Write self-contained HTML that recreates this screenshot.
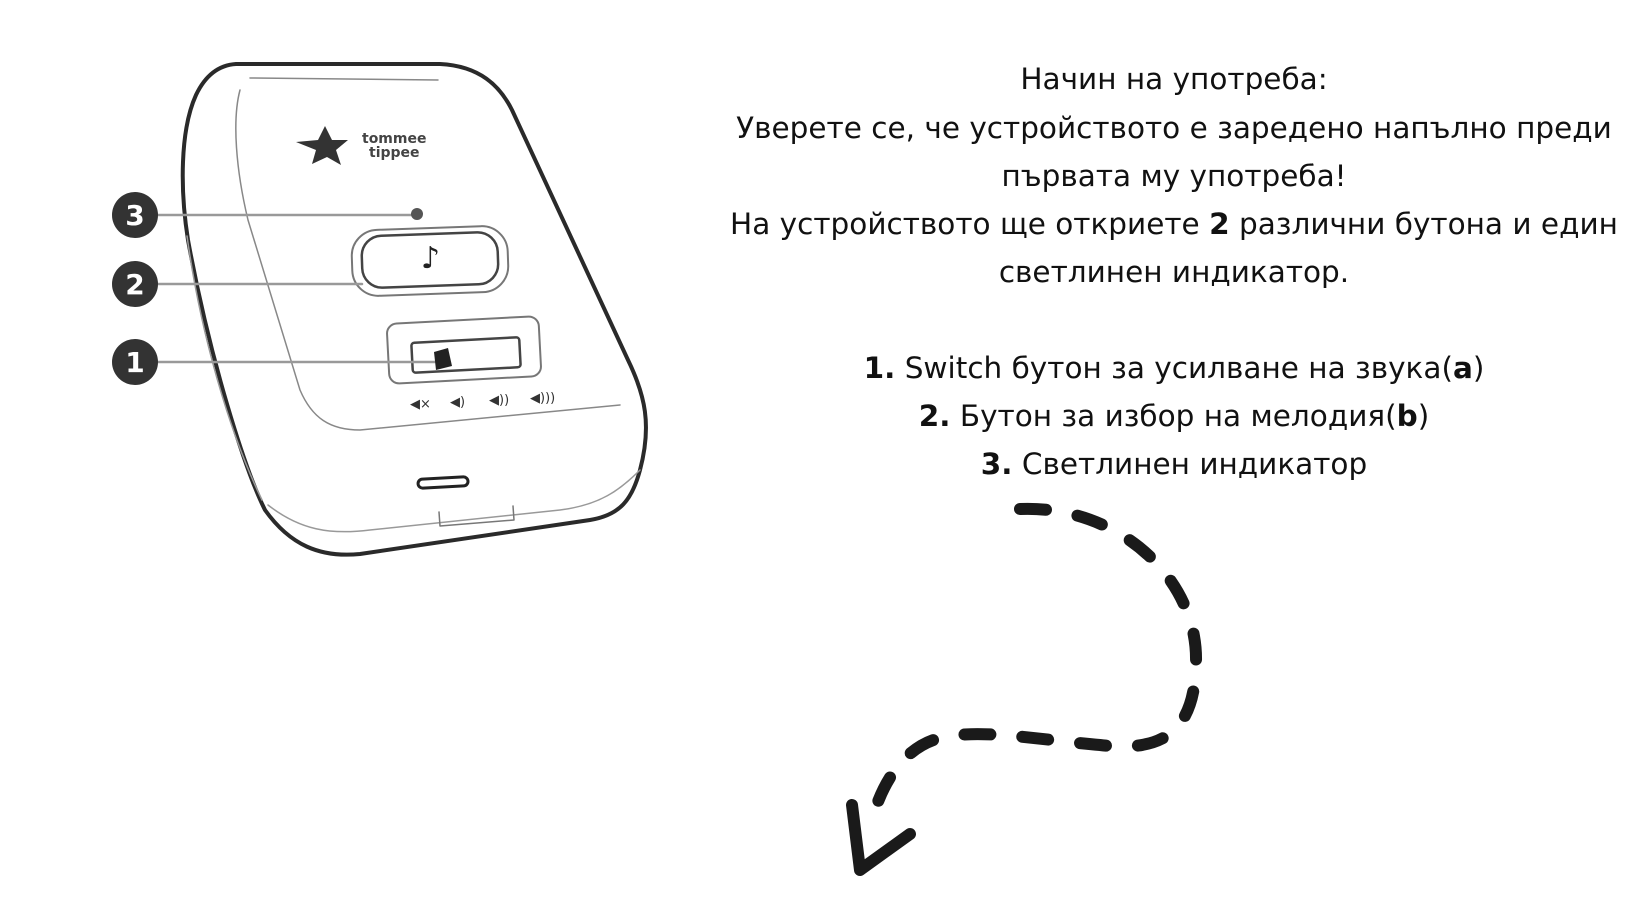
<!DOCTYPE html>
<html><head><meta charset="utf-8"><style>
html,body{margin:0;padding:0;background:#fff;}
body{width:1640px;height:924px;position:relative;overflow:hidden;}
.t{position:absolute;left:690px;width:968px;text-align:center;font-family:"DejaVu Sans","Liberation Sans",sans-serif;font-size:29.5px;color:#111;white-space:nowrap;}
b{font-weight:bold;}
</style></head><body>
<svg width="1640" height="924" style="position:absolute;left:0;top:0">
<g fill="none" stroke="#2a2a2a" stroke-linecap="round" stroke-linejoin="round">
 <path d="M236,64 L440,64 C480,66 500,86 512,110 L628,360 C645,395 652,425 640,470 C632,500 620,515 590,520 L360,554 C320,558 290,545 265,510 C245,470 210,360 188,240 C180,190 180,130 196,95 C206,74 220,65 236,64 Z" stroke-width="4"/>
 <path d="M250,78 L438,80 M240,90 C232,120 236,170 248,220 L300,390 C312,418 330,430 360,430 L620,405" stroke="#888" stroke-width="1.5"/>
 <path d="M187,236 C200,330 228,430 262,500" stroke="#999" stroke-width="1.5"/>
 <path d="M268,505 C300,530 330,535 370,530 L560,510 C600,505 620,490 640,470" stroke="#999" stroke-width="1.5"/>
 <path d="M439,512 L440,526 L514,520 L513,506" stroke="#777" stroke-width="1.5"/>
 <rect x="418" y="478" width="50" height="9" rx="4.5" stroke="#222" stroke-width="3" transform="rotate(-3 443 482)"/>
 <rect x="352" y="228" width="156" height="66" rx="26" stroke="#777" stroke-width="2" transform="rotate(-2 430 261)"/>
 <rect x="362" y="234" width="136" height="52" rx="20" stroke="#444" stroke-width="2.5" transform="rotate(-2 430 261)"/>
 <rect x="388" y="320" width="152" height="60" rx="10" stroke="#777" stroke-width="2" transform="rotate(-3 464 350)"/>
 <rect x="412" y="340" width="108" height="30" rx="3" stroke="#444" stroke-width="2.5" transform="rotate(-3 466 355)"/>
 <path d="M158,215 L412,215 M158,284 L362,284 M158,362 L446,362" stroke="#999" stroke-width="2.5"/>
</g>
<circle cx="417" cy="214" r="6" fill="#555"/>
<path d="M434,352 L448,348 L452,366 L436,370 Z" fill="#222"/>
<text x="421" y="268" font-size="30" font-family="DejaVu Sans" fill="#222">♪</text>
<g fill="#333" font-family="DejaVu Sans" font-size="13">
 <text x="410" y="408">◀×</text><text x="450" y="406">◀)</text><text x="489" y="404">◀))</text><text x="530" y="402">◀)))</text>
</g>
<path d="M325,126 L332,140 L348,140 L336,150 L341,165 L327,157 L312,164 L316,150 L296,142 L318,140 Z" fill="#333"/>
<text x="362" y="143" font-family="DejaVu Sans" font-weight="bold" font-size="14" fill="#444">tommee</text>
<text x="369" y="157" font-family="DejaVu Sans" font-weight="bold" font-size="14" fill="#444">tippee</text>
<g font-family="DejaVu Sans" font-weight="bold" font-size="28" fill="#fff" text-anchor="middle">
 <circle cx="135" cy="215" r="23" fill="#333"/><text x="135" y="225">3</text>
 <circle cx="135" cy="284" r="23" fill="#333"/><text x="135" y="294">2</text>
 <circle cx="135" cy="362" r="23" fill="#333"/><text x="135" y="372">1</text>
</g>
<path d="M1020,509 C1120,505 1198,580 1196,662 C1195,735 1160,752 1100,745 C1040,740 980,728 940,738 C900,748 880,790 872,820" fill="none" stroke="#1a1a1a" stroke-width="12" stroke-linecap="round" stroke-dasharray="26 32"/>
<path d="M852,805 L860,870 L910,834" fill="none" stroke="#1a1a1a" stroke-width="12" stroke-linecap="round" stroke-linejoin="round"/>
</svg>
<div class="t" style="top:62px">Начин на употреба:</div>
<div class="t" style="top:111px">Уверете се, че устройството е заредено напълно преди</div>
<div class="t" style="top:159px">първата му употреба!</div>
<div class="t" style="top:207px">На устройството ще откриете <b>2</b> различни бутона и един</div>
<div class="t" style="top:255px">светлинен индикатор.</div>
<div class="t" style="top:351px"><b>1.</b> Switch бутон за усилване на звука(<b>a</b>)</div>
<div class="t" style="top:399px"><b>2.</b> Бутон за избор на мелодия(<b>b</b>)</div>
<div class="t" style="top:447px"><b>3.</b> Светлинен индикатор</div>
</body></html>
